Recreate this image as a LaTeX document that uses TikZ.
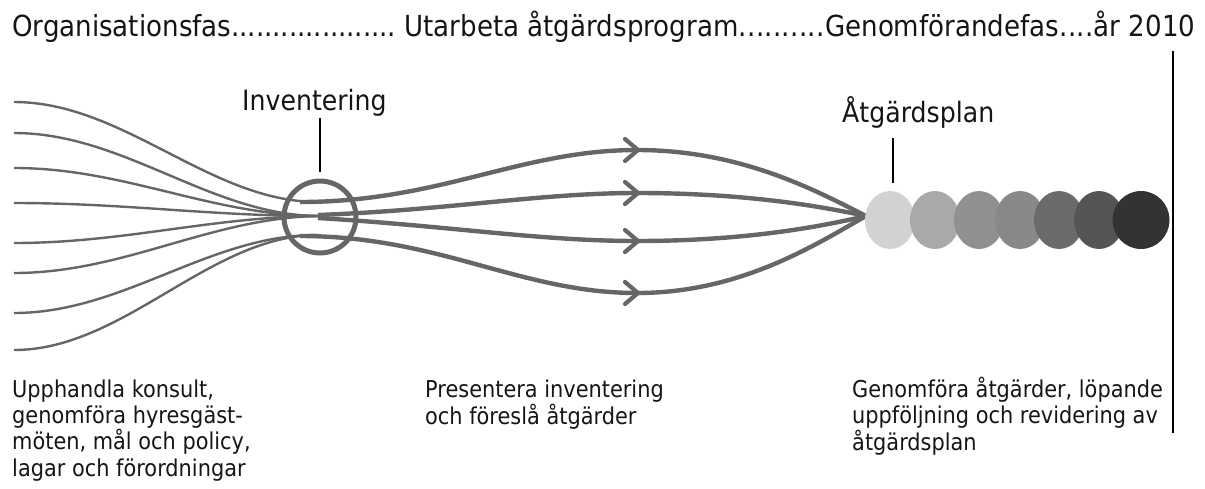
\documentclass[tikz,border=0pt]{standalone}
\usepackage{fontspec}
\usetikzlibrary{shapes.geometric}
\setmainfont{DejaVu Sans}[FakeStretch=0.9]
\definecolor{lg}{HTML}{666666}
\definecolor{txt}{HTML}{151515}
\definecolor{c1}{HTML}{D2D2D2}
\definecolor{c2}{HTML}{A9A9A9}
\definecolor{c3}{HTML}{909090}
\definecolor{c4}{HTML}{888888}
\definecolor{c5}{HTML}{6A6A6A}
\definecolor{c6}{HTML}{555555}
\definecolor{c7}{HTML}{333333}
\newcommand{\mydots}[1]{\xleaders\hbox to 8pt{\hss.\hss}\hskip 0pt plus #1fill\relax}
\begin{document}
\begin{tikzpicture}[x=1pt,y=-1pt,
  fanline/.style={draw=lg,line width=2.4pt},
  flowline/.style={draw=lg,line width=4.4pt},
  chev/.style={draw=lg,line width=4.2pt,line cap=round,line join=round},
  tickline/.style={draw=black,line width=2pt},
  label/.style={inner sep=0pt,anchor=base west,text=txt,font=\fontsize{28}{30}\selectfont},
  desc/.style={inner sep=0pt,anchor=base west,text=txt,align=left,font=\fontsize{23.2}{26.3}\selectfont},
  dot/.style={inner sep=0pt,ellipse,minimum width=50pt,minimum height=58pt}]
\useasboundingbox (0,0) rectangle (1205,488);

% title
\node[inner sep=0pt,anchor=base west,text=txt,font=\fontsize{29}{31}\selectfont] (title) at (12,36)
  {\hbox to 1183pt{Organisationsfas\mydots{19}\ Utarbeta åtgärdsprogram\mydots{10}Genomförandefas\mydots{4}år 2010}};

% fan coordinates
\coordinate (s1) at (14,102);
\coordinate (s2) at (14,133);
\coordinate (s3) at (14,168);
\coordinate (s4) at (14,203);
\coordinate (s5) at (14,243);
\coordinate (s6) at (14,273);
\coordinate (s7) at (14,313);
\coordinate (s8) at (14,350);
\coordinate (eT) at (318,202);
\coordinate (eM) at (318,216);
\coordinate (eB) at (318,235);

\draw[fanline] (s1) .. controls (124,102) and (210,202) .. (eT);
\draw[fanline] (s2) .. controls (124,133) and (210,215) .. (eM);
\draw[fanline] (s3) .. controls (124,168) and (210,215) .. (eM);
\draw[fanline] (s4) .. controls (124,203) and (210,216) .. (eM);
\draw[fanline] (s5) .. controls (124,243) and (210,217) .. (eM);
\draw[fanline] (s6) .. controls (124,273) and (210,218) .. (eM);
\draw[fanline] (s7) .. controls (124,313) and (210,234) .. (eB);
\draw[fanline] (s8) .. controls (124,350) and (210,235) .. (eB);

% flow curves
\coordinate (a1) at (637,150);
\coordinate (a2) at (637,193);
\coordinate (a3) at (637,241);
\coordinate (a4) at (637,293);
\coordinate (conv) at (866,216);

\draw[flowline] (300,202) .. controls (440,202) and (520,150) .. (a1) .. controls (740,150) and (815,190) .. (conv);
\draw[flowline] (318,215) .. controls (450,210) and (540,193) .. (a2) .. controls (740,193) and (815,205) .. (conv);
\draw[flowline] (318,218) .. controls (450,226) and (540,241) .. (a3) .. controls (740,241) and (815,228) .. (conv);
\draw[flowline] (300,236) .. controls (440,236) and (520,293) .. (a4) .. controls (740,293) and (815,245) .. (conv);

\foreach \a in {a1,a2,a3,a4}{
  \draw[chev] ([shift={(-12,-11)}]\a) -- ([shift={(1,0)}]\a) -- ([shift={(-12,11)}]\a);
}

% inventering circle
\node[draw=lg,line width=5pt,circle,minimum size=72pt,inner sep=0pt] (inv) at (320,217) {};
\node[label] (invlab) at (242,110) {Inventering};
\draw[tickline] (320,118) -- (inv.north |- 0,172);

% colored dots
\node[dot,fill=c1] (d1) at (890,220) {};
\node[dot,fill=c2] (d2) at (935,220) {};
\node[dot,fill=c3] (d3) at (979,220) {};
\node[dot,fill=c4] (d4) at (1020,220) {};
\node[dot,fill=c5] (d5) at (1059,220) {};
\node[dot,fill=c6] (d6) at (1099,220) {};
\node[dot,fill=c7,minimum width=57pt] (d7) at (1141,220) {};

\node[label] (aplab) at (842,122) {Åtgärdsplan};
\draw[tickline] (893,138) -- (893,183);

% right vertical line
\coordinate (vt) at (1173,51);
\coordinate (vb) at (1173,433);
\draw[draw=black,line width=2.4pt] (vt) -- (vb);

% descriptions (base anchor = last line's baseline)
\node[desc] (t1) at (12,476) {Upphandla konsult,\\genomföra hyresgäst-\\möten, mål och policy,\\lagar och förordningar};
\node[desc] (t2) at (425,424) {Presentera inventering\\och föreslå åtgärder};
\node[desc] (t3) at (852,450) {Genomföra åtgärder, löpande\\uppföljning och revidering av\\åtgärdsplan};
\end{tikzpicture}
\end{document}
